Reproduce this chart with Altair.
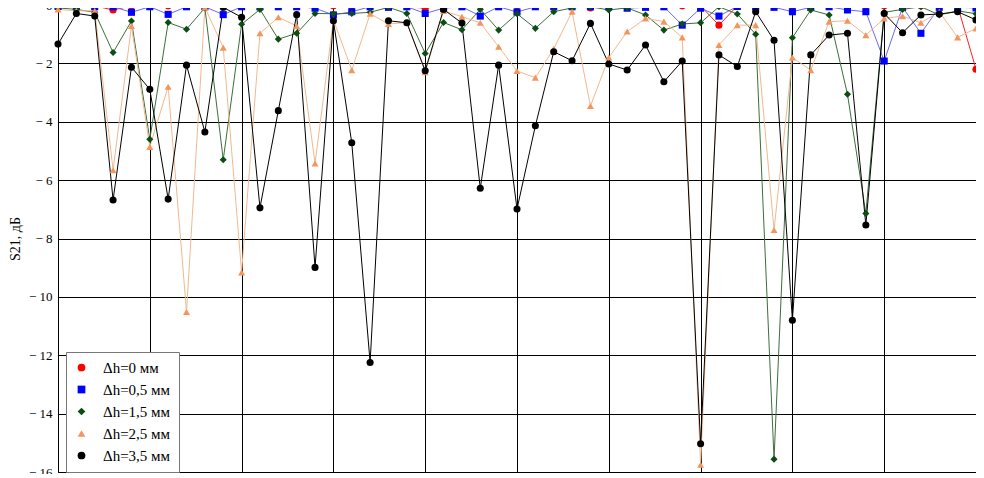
import altair as alt
import pandas as pd

idx = list(range(51))

series_names = ["Δh=0 мм", "Δh=0,5 мм", "Δh=1,5 мм", "Δh=2,5 мм", "Δh=3,5 мм"]

red = [-0.05, -0.05, -0.03, -0.17, -0.03, -0.02, -0.03, -0.02, -0.03, -0.02,
       -0.03, -0.02, -0.03, -0.05, -0.03, -0.03, -0.03, -0.03, -0.04, -0.06,
       -0.11, -0.03, -0.03, -0.03, -0.03, -0.03, -0.03, -0.03, -0.04, -0.10,
       -0.03, -0.03, -0.03, -0.03, -0.03, -0.03, -0.69, -0.03, -0.03, -0.03,
       -0.03, -0.03, -0.03, -0.03, -0.03, -0.03, -0.03, -0.03, -0.03, -0.03, -2.20]

blue = [-0.05, -0.06, -0.06, -0.06, -0.25, -0.06, -0.32, -0.06, -0.06, -0.33,
        -0.06, -0.06, -0.06, -0.06, -0.11, -0.34, -0.23, -0.06, -0.08, -0.06,
        -0.29, -0.11, -0.06, -0.38, -0.06, -0.24, -0.06, -0.06, -0.06, -0.06,
        -0.06, -0.11, -0.08, -0.06, -0.69, -0.11, -0.38, -0.05, -0.06, -0.08,
        -0.23, -0.08, -0.06, -0.17, -0.23, -1.92, -0.08, -0.97, -0.08, -0.08, -0.10]

green = [-0.10, -0.15, -0.25, -1.63, -0.55, -4.60, -0.60, -0.83, -0.10, -5.30,
         -0.66, -0.15, -1.17, -0.97, -0.29, -0.30, -0.29, -0.25, -0.08, -0.29,
         -1.66, -0.60, -0.85, -0.15, -0.86, -0.30, -0.80, -0.23, -0.10, -0.06,
         -0.17, -0.10, -0.34, -0.86, -0.65, -0.61, -0.06, -0.31, -1.00, -15.56,
         -1.12, -0.17, -0.34, -3.06, -7.14, -0.25, -0.15, -0.06, -0.34, -0.20, -0.30]

orange = [-0.15, -0.20, -0.20, -5.66, -0.72, -4.86, -2.80, -10.52, -0.08, -1.46,
          -9.16, -0.97, -0.42, -0.72, -5.43, -0.50, -2.23, -0.30, -0.65, -0.60,
          -2.30, -0.20, -0.40, -0.61, -1.43, -2.26, -2.49, -1.50, -0.23, -3.46,
          -1.80, -0.91, -0.46, -0.57, -1.11, -15.75, -1.37, -0.69, -0.69, -7.71,
          -1.80, -2.23, -0.57, -0.54, -1.03, -0.46, -0.38, -0.61, -0.23, -1.11, -0.80]

black = [-1.34, -0.29, -0.38, -6.68, -2.13, -2.89, -6.65, -2.06, -4.35, -0.08,
         -0.42, -6.95, -3.62, -0.33, -8.99, -0.54, -4.72, -12.25, -0.54, -0.61,
         -2.25, -0.15, -0.62, -6.28, -2.06, -6.99, -4.14, -1.60, -1.91, -0.63,
         -2.02, -2.23, -1.37, -2.63, -1.92, -15.03, -1.71, -2.11, -0.23, -1.21,
         -10.80, -1.71, -1.03, -0.97, -7.54, -0.29, -0.95, -0.34, -0.31, -0.23, -0.51]

y_ticks = list(range(-16, 1, 2))
x_grid = list(range(0, 51, 5))

marker_colors = ["#ff0000", "#0000ff", "#0b4d12", "#f4965c", "#000000"]
line_colors = ["#ff2020", "#6a6af0", "#3c6e3c", "#f2b88e", "#000000"]
shapes = ["circle", "square", "diamond", "triangle-up", "circle"]

rows = []
for k, (name, vals) in enumerate(zip(series_names, [red, blue, green, orange, black])):
    for i, v in zip(idx, vals):
        rows.append({"i": i, "v": v, "s": name, "sl": "line " + name, "k": k})
df = pd.DataFrame(rows)

x_enc = alt.X("i:Q", scale=alt.Scale(domain=[0, 50], nice=False),
              axis=alt.Axis(values=x_grid, labels=False, ticks=False, domain=False,
                            title=None, grid=True, gridColor="#000", gridWidth=1))
y_enc = alt.Y("v:Q", scale=alt.Scale(domain=[-16, 0], nice=False),
              axis=alt.Axis(values=y_ticks, grid=True, gridColor="#000", gridWidth=1,
                            domain=False, ticks=False,
                            labelExpr="datum.value == 0 ? '0' : '\u2212 ' + format(-datum.value, 'd')",
                            labelFont="Liberation Serif", labelFontSize=13, labelColor="#000",
                            labelPadding=6,
                            title="S21, дБ", titleFont="Liberation Serif", titleFontSize=14,
                            titleFontWeight="normal", titleColor="#000", titlePadding=6))

legend_def = alt.Legend(title=None, orient="none", legendX=8, legendY=347,
                        fillColor="#ffffff", strokeColor="#777777",
                        padding=8, rowPadding=6, symbolSize=60,
                        labelFont="Liberation Serif", labelFontSize=15,
                        labelColor="#000", symbolStrokeWidth=0, labelOffset=14)

line_domain = ["line " + n for n in series_names]

lines = alt.Chart(df).mark_line(strokeWidth=1, clip=False).encode(
    x=x_enc, y=y_enc,
    stroke=alt.Stroke("sl:N", scale=alt.Scale(domain=line_domain, range=line_colors), legend=None),
    order=alt.Order("i:Q"),
)

points = alt.Chart(df).mark_point(filled=True, size=50, opacity=1, clip=False).encode(
    x=x_enc, y=y_enc,
    color=alt.Color("s:N", scale=alt.Scale(domain=series_names, range=marker_colors),
                    legend=legend_def),
    shape=alt.Shape("s:N", scale=alt.Scale(domain=series_names, range=shapes),
                    legend=legend_def),
    order=alt.Order("k:Q"),
)

chart = alt.layer(lines, points).properties(
    width=918, height=467,
    autosize=alt.AutoSizeParams(type="none"),
    padding={"left": 50, "top": -3, "right": 0, "bottom": 2},
).configure_view(stroke="#000", strokeWidth=1)

chart.save("out.html", embed_options={"renderer": "svg", "actions": False})
